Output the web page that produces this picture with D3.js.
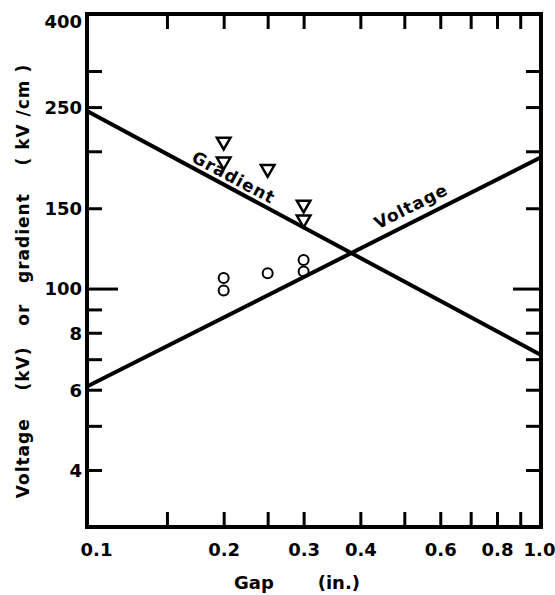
<!DOCTYPE html>
<html>
<head>
<meta charset="utf-8">
<script src="https://cdn.jsdelivr.net/npm/d3@7"></script>
<style>
  body { margin: 0; background: #fff; }
  svg { font-family: "DejaVu Sans", sans-serif; font-weight: bold; }
  .axis path { display: none; }
  .axis line { stroke: #000; stroke-width: 3; }
  .axis text { font-size: 18px; fill: #000; font-family: "DejaVu Sans", sans-serif; }
</style>
</head>
<body>
<script>
// gap in inches, voltage / gradient on one log axis
var gapRange = [0.1, 1.0]
var valueRange = [30, 400]

var gradientLine = [[0.1, 245], [1.0, 71.5]]
var voltageLine = [[0.1, 61], [1.0, 194]]

var gradientPoints = [[0.2, 209], [0.2, 189], [0.25, 182], [0.3, 152], [0.3, 141]]
var voltagePoints = [[0.2, 105.5], [0.2, 99], [0.25, 108], [0.3, 115.5], [0.3, 109]]

var xTicks = [0.1, 0.15, 0.2, 0.25, 0.3, 0.4, 0.5, 0.6, 0.7, 0.8, 0.9, 1.0]
var xTickLabels = { 0.1: "0.1", 0.2: "0.2", 0.3: "0.3", 0.4: "0.4", 0.6: "0.6", 0.8: "0.8", 1: "1.0" }
var yTicks = [40, 50, 60, 70, 80, 90, 100, 150, 200, 250, 300, 400]
var yTickLabels = { 40: "4", 60: "6", 80: "8", 100: "100", 150: "150", 250: "250", 400: "400" }

var width = 555, height = 595
var margin = { top: 14, right: 14, bottom: 68, left: 87 }

var svg = d3.select("body").append("svg")
  .attr("width", width)
  .attr("height", height)

var x = d3.scaleLog().domain(gapRange).range([margin.left, width - margin.right])
var y = d3.scaleLog().domain(valueRange).range([height - margin.bottom, margin.top])

var tick = 15

// axes, ticks pointing inward
var bottomAxis = svg.append("g")
  .attr("class", "axis")
  .attr("transform", "translate(0," + (height - margin.bottom) + ")")
  .call(d3.axisBottom(x).tickValues(xTicks).tickSizeOuter(0)
    .tickFormat(function(d) { return xTickLabels[d] || "" }))
bottomAxis.selectAll(".tick line").attr("y1", 0).attr("y2", -tick)
bottomAxis.selectAll("text")
  .attr("y", 16)
  .attr("dx", function(d) { return d === 0.1 ? 9 : (d === 1 ? -2 : 0) })

var topAxis = svg.append("g")
  .attr("class", "axis")
  .attr("transform", "translate(0," + margin.top + ")")
  .call(d3.axisTop(x).tickValues(xTicks).tickSizeOuter(0).tickFormat(""))
topAxis.selectAll(".tick line").attr("y1", 0).attr("y2", tick)

var leftAxis = svg.append("g")
  .attr("class", "axis")
  .attr("transform", "translate(" + margin.left + ",0)")
  .call(d3.axisLeft(y).tickValues(yTicks).tickSizeOuter(0)
    .tickFormat(function(d) { return yTickLabels[d] || "" }))
leftAxis.selectAll(".tick line").attr("x1", 0).attr("x2", function(d) { return d === 100 ? 31 : tick })
leftAxis.selectAll("text").attr("x", -5).attr("dy", function(d) { return d === 400 ? "0.75em" : "0.35em" })

var rightAxis = svg.append("g")
  .attr("class", "axis")
  .attr("transform", "translate(" + (width - margin.right) + ",0)")
  .call(d3.axisRight(y).tickValues(yTicks).tickSizeOuter(0).tickFormat(""))
rightAxis.selectAll(".tick line").attr("x1", 0).attr("x2", function(d) { return d === 100 ? -28 : -tick })

// frame
svg.append("rect")
  .attr("x", margin.left)
  .attr("y", margin.top)
  .attr("width", width - margin.left - margin.right)
  .attr("height", height - margin.top - margin.bottom)
  .attr("fill", "none")
  .attr("stroke", "#000")
  .attr("stroke-width", 4)

// straight lines on log-log
var line = d3.line()
  .x(function(d) { return x(d[0]) })
  .y(function(d) { return y(d[1]) })

svg.selectAll("path.fit")
  .data([gradientLine, voltageLine])
  .enter().append("path")
  .attr("class", "fit")
  .attr("d", line)
  .attr("fill", "none")
  .attr("stroke", "#000")
  .attr("stroke-width", 4)

function valueAt(l, g) {
  var t = Math.log(g / l[0][0]) / Math.log(l[1][0] / l[0][0])
  return Math.exp(Math.log(l[0][1]) + t * (Math.log(l[1][1]) - Math.log(l[0][1])))
}

function lineLabel(l, g, text, offset) {
  var angle = Math.atan2(y(l[1][1]) - y(l[0][1]), x(l[1][0]) - x(l[0][0])) * 180 / Math.PI
  svg.append("text")
    .attr("transform", "translate(" + x(g) + "," + y(valueAt(l, g)) + ") rotate(" + angle + ")")
    .attr("y", -offset)
    .attr("text-anchor", "middle")
    .attr("font-size", 17)
    .attr("letter-spacing", 1)
    .text(text)
}

lineLabel(gradientLine, 0.205, "Gradient", 5)
lineLabel(voltageLine, 0.535, "Voltage", 9)

// measured points
svg.selectAll("path.tri")
  .data(gradientPoints)
  .enter().append("path")
  .attr("class", "tri")
  .attr("d", d3.symbol().type(d3.symbolTriangle).size(80))
  .attr("transform", function(d) {
    return "translate(" + x(d[0]) + "," + (y(d[1]) - 1) + ") rotate(180)"
  })
  .attr("fill", "none")
  .attr("stroke", "#000")
  .attr("stroke-width", 2.5)

svg.selectAll("circle.pt")
  .data(voltagePoints)
  .enter().append("circle")
  .attr("class", "pt")
  .attr("cx", function(d) { return x(d[0]) })
  .attr("cy", function(d) { return y(d[1]) })
  .attr("r", 5)
  .attr("fill", "none")
  .attr("stroke", "#000")
  .attr("stroke-width", 2)

// axis titles
svg.append("text")
  .attr("x", 297)
  .attr("y", 589)
  .attr("text-anchor", "middle")
  .attr("font-size", 18)
  .attr("xml:space", "preserve")
  .text("Gap       (in.)")

svg.append("text")
  .attr("transform", "translate(29,281) rotate(-90)")
  .attr("text-anchor", "middle")
  .attr("font-size", 17)
  .attr("letter-spacing", 1)
  .attr("xml:space", "preserve")
  .text("Voltage    (kV)   or   gradient    ( kV /cm )")
</script>
</body>
</html>
